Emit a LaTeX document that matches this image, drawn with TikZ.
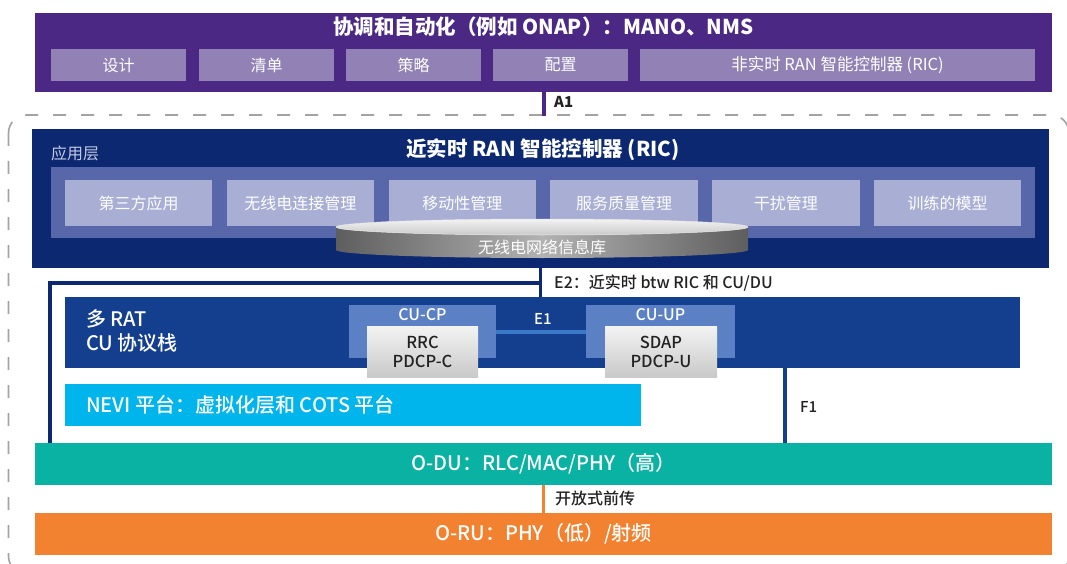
\documentclass[tikz,border=0pt]{standalone}
\usepackage{fontspec}
\setmainfont{Noto Sans CJK SC}
\newfontfamily\medfont{Noto Sans CJK SC}[UprightFont=* Medium]
\definecolor{purp}{HTML}{4B2884}
\definecolor{purpsub}{HTML}{9181B5}
\definecolor{ricnavy}{HTML}{0B2870}
\definecolor{ricmid}{HTML}{5866AA}
\definecolor{ricsub}{HTML}{A8AED4}
\definecolor{apptxt}{HTML}{C5C9E6}
\definecolor{cublue}{HTML}{143F8F}
\definecolor{cuinner}{HTML}{5B80C3}
\definecolor{nevic}{HTML}{00B5EC}
\definecolor{oduc}{HTML}{09B2A2}
\definecolor{oruc}{HTML}{F28230}
\definecolor{e1c}{HTML}{3A78C8}
\definecolor{labelc}{HTML}{222222}
\definecolor{framec}{HTML}{A3A3A3}
\definecolor{cyldark}{HTML}{5E5E5E}
\definecolor{cyllight}{HTML}{B2B2B2}
\definecolor{cyltop}{HTML}{F3F3F3}
\definecolor{cyltopb}{HTML}{C9C9C9}
\begin{document}
\begin{tikzpicture}[x=1pt,y=-1pt,
  rb/.style={anchor=north west, inner sep=0pt, outer sep=0pt, draw=none},
  wt/.style={text=white, inner sep=0pt},
  lbl/.style={text=labelc, inner sep=0pt, anchor=west},
  fbig/.style={font=\medfont\fontsize{20pt}{24pt}\selectfont},
  ftitle/.style={font=\bfseries\fontsize{20.5pt}{24pt}\selectfont},
  fmid/.style={font=\fontsize{16pt}{21pt}\selectfont},
  fmidm/.style={font=\medfont\fontsize{16pt}{21pt}\selectfont},
  fsmm/.style={font=\medfont\fontsize{15pt}{18pt}\selectfont},
  fsmb/.style={font=\bfseries\fontsize{15pt}{18pt}\selectfont},
  purpbox/.style={rb, fill=purpsub, minimum height=32, text=white, fmid},
  appbox/.style={rb, fill=ricsub, minimum width=147.3, minimum height=46, text=white, fmid},
  graybox/.style={rb, top color=cyltop, bottom color=cyltopb, minimum width=111, minimum height=51, text=labelc, align=center, font=\medfont\fontsize{16.5pt}{21pt}\selectfont},
  navyline/.style={draw=ricnavy, line width=3.5pt},
]
\useasboundingbox (0,0) rectangle (1067,564);

% dashed frame
\draw[framec, line width=1.6pt, dash pattern=on 13pt off 15pt, rounded corners=18pt] (8.5,115) rectangle (1069,574);

% orchestration
\node[rb, fill=purp, minimum width=1017, minimum height=79] (orch) at (35,13) {};
\node[wt, ftitle] (orchT) at (543.5,27) {协调和自动化（例如 ONAP）：MANO、NMS};
\node[purpbox, minimum width=135] (design) at (51,49) {设计};
\node[purpbox, minimum width=135] (inv) at (199,49) {清单};
\node[purpbox, minimum width=135] (policy) at (346,49) {策略};
\node[purpbox, minimum width=135] (config) at (493,49) {配置};
\node[purpbox, minimum width=395, font=\fontsize{16.5pt}{21pt}\selectfont] (nrtric) at (640,49) {非实时 RAN 智能控制器 (RIC)};

% A1
\coordinate (a1e) at (543.5,116);
\draw[purp, line width=4pt] (orch.south) -- (a1e);
\node[lbl, fsmb] (a1L) at (554,102) {A1};

% near-RT RIC
\node[rb, fill=ricnavy, minimum width=1017, minimum height=139] (ric) at (32,129) {};
\node[wt, ftitle] (ricT) at (543,150) {近实时 RAN 智能控制器 (RIC)};
\node[inner sep=0pt, anchor=west, text=apptxt, fmid] (appT) at (51,153) {应用层};
\node[rb, fill=ricmid, minimum width=984, minimum height=71] (appL) at (51,167) {};
\node[appbox] (app1) at (65,180) {第三方应用};
\node[appbox] (app2) at (226.8,180) {无线电连接管理};
\node[appbox] (app3) at (388.6,180) {移动性管理};
\node[appbox] (app4) at (550.4,180) {服务质量管理};
\node[appbox] (app5) at (712.2,180) {干扰管理};
\node[appbox] (app6) at (874,180) {训练的模型};

% RNIB cylinder
\shade[left color=cyldark, right color=cyldark, middle color=cyllight]
  (336,227) -- (336,250) arc[start angle=180, end angle=360, x radius=206pt, y radius=8pt]
  -- (748,227) arc[start angle=0, end angle=180, x radius=206pt, y radius=8pt] -- cycle;
\shade[top color=cyltop, bottom color=cyltopb, draw=white!85!gray, line width=0.5pt]
  (542,227) ellipse[x radius=206pt, y radius=8pt];
\node[wt, fmid] (rnib) at (542,247) {无线电网络信息库};

% CU
\node[rb, fill=cublue, minimum width=955, minimum height=71] (cu) at (65,297) {};
\node[wt, anchor=west, align=left, fbig] (cuT) at (86,331) {多 RAT\\CU 协议栈};
\node[rb, fill=cuinner, minimum width=147, minimum height=53] (cucp) at (349,305) {};
\node[wt, fmidm] (cucpT) at (422.5,315) {CU-CP};
\node[rb, fill=cuinner, minimum width=149, minimum height=53] (cuup) at (586,305) {};
\node[wt, fmidm] (cuupT) at (660.5,315) {CU-UP};
\node[graybox] (rrc) at (367,326) {RRC\\[-2pt]PDCP-C};
\node[graybox, minimum width=112] (sdap) at (605,326) {SDAP\\[-2pt]PDCP-U};

% E1
\coordinate (e1y) at (0,332);
\draw[e1c, line width=3.5pt] (cucp.east |- e1y) -- (cuup.west |- e1y);
\node[wt, fsmm] (e1L) at (543,319) {E1};

% E2
\coordinate (e2c) at (50,283);
\draw[navyline] (ric.south) -- (ric.south |- cu.north);
\draw[navyline] (ric.south |- e2c) -- (e2c) -- (e2c |- 0,443);
\node[lbl, fmidm] (e2L) at (554,283) {E2：近实时 btw RIC 和 CU/DU};

% NEVI
\node[rb, fill=nevic, minimum width=576, minimum height=42] (nevi) at (65,384) {};
\node[wt, anchor=west, fbig] (neviT) at (86,405) {NEVI 平台：虚拟化层和 COTS 平台};

% F1
\coordinate (f1x) at (785,0);
\draw[cublue, line width=3.5pt] (cu.south -| f1x) -- (f1x |- 0,443);
\node[lbl, fsmm] (f1L) at (800,407) {F1};

% O-DU, O-RU
\node[rb, fill=oduc, minimum width=1017, minimum height=42, text=white, fbig] (odu) at (35,443) {O-DU：RLC/MAC/PHY（高）};
\node[rb, fill=oruc, minimum width=1017, minimum height=42, text=white, fbig] (oru) at (35,513) {O-RU：PHY（低）/射频};
\draw[oruc, line width=3pt] (odu.south) -- (oru.north);
\node[lbl, fmidm] (fhL) at (555,498) {开放式前传};
\end{tikzpicture}
\end{document}
